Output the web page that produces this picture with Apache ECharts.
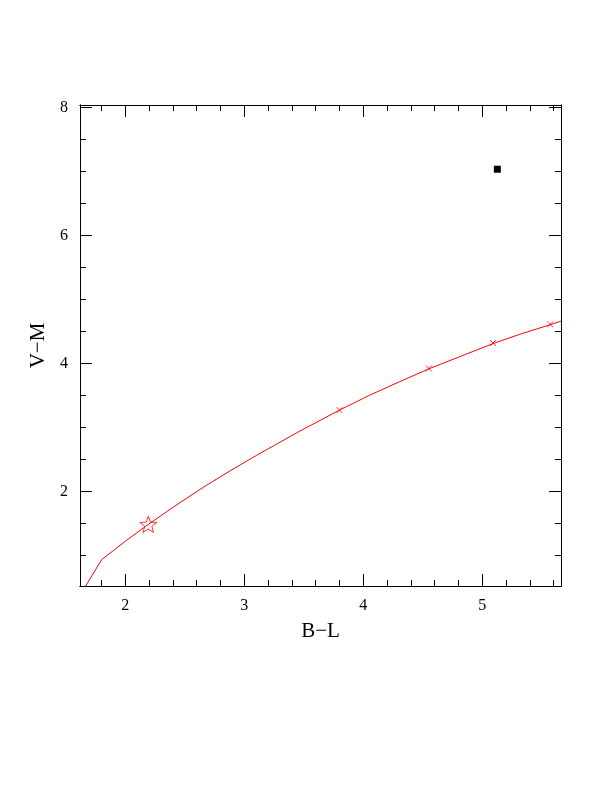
<!DOCTYPE html>
<html><head><meta charset="utf-8">
<script src="https://cdn.jsdelivr.net/npm/echarts@6/dist/echarts.min.js"></script>
<style>html,body{margin:0;padding:0;background:#fff}#c{width:612px;height:792px}</style>
</head><body><div id="c"></div>
<script>
// axis ranges
const xRange = [1.619, 5.661];
const yRange = [0.52, 8.04];
// tick labels
const xMajorTicks = [2, 3, 4, 5];
const yMajorTicks = [2, 4, 6, 8];
const xMinorStep = 0.2;
const yMinorStep = 0.5;
// red relation curve
const curveBL = [1.667, 1.80, 2.00, 2.19, 2.46, 2.67, 2.88, 3.10, 3.45, 3.80, 4.05, 4.30, 4.55, 5.09, 5.33, 5.57, 5.66];
const curveVM = [0.52, 0.93, 1.22, 1.48, 1.825, 2.08, 2.32, 2.56, 2.925, 3.27, 3.50, 3.71, 3.915, 4.31, 4.465, 4.605, 4.66];
// cross marks on the curve
const crossBL = [3.80, 4.55, 5.09, 5.57];
const crossVM = [3.27, 3.92, 4.32, 4.61];
// star point
const starBL = [2.193];
const starVM = [1.484];
// black square point
const squareBL = [5.126];
const squareVM = [7.036];

function minorVals(range, step, majors) {
  const out = [];
  const start = Math.ceil(range[0] / step - 1e-9);
  for (let k = start; k * step <= range[1] + 1e-9; k++) {
    const v = +(k * step).toFixed(4);
    if (!majors.some(m => Math.abs(m - v) < 1e-6)) out.push(v);
  }
  return out;
}
const xMinor = minorVals(xRange, xMinorStep, xMajorTicks);
const yMinor = minorVals(yRange, yMinorStep, yMajorTicks);

const FONT = '"Liberation Serif","DejaVu Serif",serif';
function axis(kind, pos, vals, len, withLabels, name) {
  const r = kind === 'x' ? xRange : yRange;
  const a = {
    type: 'value', position: pos, min: r[0], max: r[1],
    axisLine: {show: true, onZero: false, lineStyle: {color: '#000', width: 1}},
    axisTick: {show: true, inside: true, length: len, customValues: vals, lineStyle: {color: '#000', width: 1}},
    axisLabel: {show: withLabels, customValues: vals, margin: 12, color: '#000', fontFamily: FONT, fontSize: 16},
    splitLine: {show: false}, minorTick: {show: false}
  };
  if (name) {
    a.name = name; a.nameLocation = 'middle';
    a.nameTextStyle = {fontFamily: FONT, fontSize: 21, color: '#000'};
    a.nameGap = kind === 'x' ? 35 : 31;
  }
  return a;
}

const starPath = (function () {
  const pts = [];
  for (let i = 0; i < 10; i++) {
    const rr = i % 2 === 0 ? 10 : 4.2;
    const ang = -Math.PI / 2 + i * Math.PI / 5;
    pts.push((10 + rr * Math.cos(ang)).toFixed(2) + ',' + (10 + rr * Math.sin(ang)).toFixed(2));
  }
  return 'path://M' + pts.join('L') + 'Z';
})();

const zip = (a, b) => a.map((v, i) => [v, b[i]]);

const chart = echarts.init(document.getElementById('c'), null, {renderer: 'canvas'});
chart.setOption({
  backgroundColor: '#fff',
  animation: false,
  grid: {left: 80, top: 105, width: 481, height: 481, containLabel: false},
  xAxis: [
    axis('x', 'bottom', xMajorTicks, 12, true, 'B\u2212L'),
    axis('x', 'bottom', xMinor, 6, false),
    axis('x', 'top', xMajorTicks, 12, false),
    axis('x', 'top', xMinor, 6, false)
  ],
  yAxis: [
    axis('y', 'left', yMajorTicks, 12, true, 'V\u2212M'),
    axis('y', 'left', yMinor, 6, false),
    axis('y', 'right', yMajorTicks, 12, false),
    axis('y', 'right', yMinor, 6, false)
  ],
  series: [
    {type: 'line', data: zip(curveBL, curveVM), showSymbol: false, symbol: 'none', clip: true,
     lineStyle: {color: '#ff0000', width: 1}, silent: true},
    {type: 'scatter', data: zip(crossBL, crossVM), symbol: 'path://M0,0L10,10M10,0L0,10', symbolSize: 6,
     itemStyle: {color: 'none', borderColor: '#ff0000', borderWidth: 1}},
    {type: 'scatter', data: zip(starBL, starVM), symbol: starPath, symbolSize: 17, symbolKeepAspect: true,
     itemStyle: {color: 'none', borderColor: '#ff0000', borderWidth: 1}},
    {type: 'scatter', data: zip(squareBL, squareVM), symbol: 'rect', symbolSize: 7,
     itemStyle: {color: '#000', opacity: 1}}
  ]
});
</script></body></html>
